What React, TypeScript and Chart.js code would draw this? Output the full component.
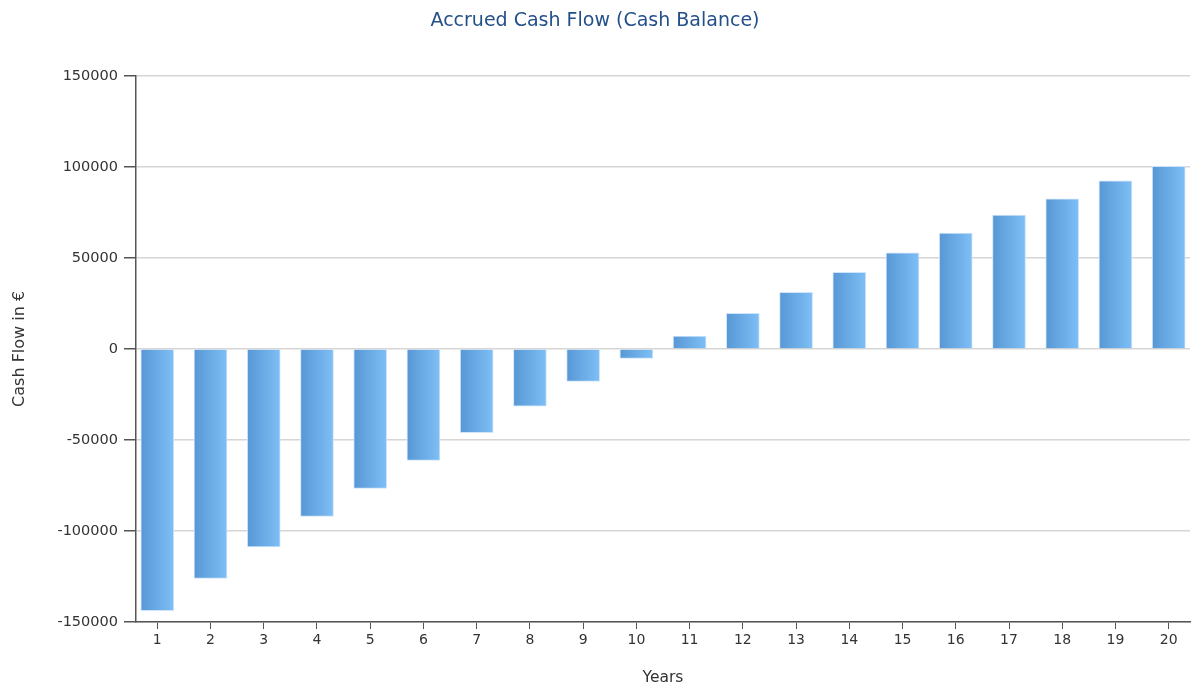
import React, { useEffect, useRef } from "react";
import { Chart, registerables } from "chart.js";

Chart.register(...registerables);

const YEARS: number[] = [1, 2, 3, 4, 5, 6, 7, 8, 9, 10, 11, 12, 13, 14, 15, 16, 17, 18, 19, 20];
const CASH_BALANCE: number[] = [
  -143800, -126000, -108800, -92000, -76600, -61200, -46000, -31500, -17800, -5200,
  7000, 19600, 31100, 42100, 52700, 63600, 73500, 82400, 92300, 100300,
];
const Y_MIN = -150000;
const Y_MAX = 150000;
const Y_STEP = 50000;

const TITLE = "Accrued Cash Flow (Cash Balance)";
const X_TITLE = "Years";
const Y_TITLE = "Cash Flow in €";

const FONT = "'DejaVu Sans', Tahoma, Verdana, sans-serif";
const BAR_W = 33;

export default function App() {
  const ref = useRef<HTMLCanvasElement | null>(null);

  useEffect(() => {
    if (!ref.current) return;
    const chart = new Chart(ref.current, {
      type: "bar",
      data: {
        datasets: [
          {
            label: "Cash Balance",
            data: YEARS.map((y, i) => ({ x: y, y: CASH_BALANCE[i] })),
            barThickness: BAR_W,
            borderWidth: 1,
            borderColor: "rgba(205,228,250,0.95)",
            backgroundColor: (ctx: any) => {
              const c = ctx.chart;
              const xs = c.scales && c.scales.x;
              if (!xs || ctx.type !== "data") return "#6aabe6";
              const px = xs.getPixelForValue(YEARS[ctx.dataIndex]);
              if (!isFinite(px)) return "#6aabe6";
              const g = c.ctx.createLinearGradient(px - BAR_W / 2, 0, px + BAR_W / 2, 0);
              g.addColorStop(0, "#5797d5");
              g.addColorStop(1, "#7fbff6");
              return g;
            },
          },
        ],
      },
      options: {
        animation: false,
        responsive: true,
        maintainAspectRatio: false,
        layout: { padding: { left: 0, right: 2, top: 0, bottom: 0 } },
        plugins: {
          legend: { display: false },
          tooltip: { enabled: false },
          title: {
            display: true,
            text: TITLE,
            color: "#24508a",
            font: { family: FONT, size: 19, weight: "normal" },
            padding: { top: 10, bottom: 43 },
          },
        },
        scales: {
          x: {
            type: "linear",
            min: 0.6,
            max: 20.4,
            offset: false,
            afterBuildTicks: (scale: any) => {
              scale.ticks = YEARS.map((v) => ({ value: v }));
            },
            afterFit: (scale: any) => {
              scale.height = 66;
            },
            grid: { offset: false, drawOnChartArea: false, drawTicks: true, tickLength: 7, tickColor: "#555" },
            border: { color: "#555", width: 1.5 },
            ticks: {
              color: "#333",
              padding: 3,
              font: { family: FONT, size: 14 },
              callback: (v: any) => String(v),
              maxRotation: 0,
              autoSkip: false,
            },
            title: {
              display: true,
              text: X_TITLE,
              color: "#333",
              font: { family: FONT, size: 15.5 },
              padding: { top: 0, bottom: 1 },
            },
          },
          y: {
            min: Y_MIN,
            max: Y_MAX,
            afterFit: (scale: any) => {
              scale.width = 136;
            },
            grid: { color: "#d6d6d6", lineWidth: 1.5, tickLength: 12, tickColor: "#555" },
            border: { color: "#555", width: 1.5 },
            ticks: {
              stepSize: Y_STEP,
              color: "#333",
              padding: 6,
              font: { family: FONT, size: 14.5 },
              callback: (v: any) => String(v),
            },
            title: {
              display: true,
              text: Y_TITLE,
              color: "#333",
              font: { family: FONT, size: 16 },
              padding: { top: 10, bottom: 0 },
            },
          },
        },
      } as any,
    });
    return () => chart.destroy();
  }, []);

  return (
    <div style={{ position: "absolute", left: 0, top: 0, width: 1192, height: 688, background: "#fff" }}>
      <canvas ref={ref} />
    </div>
  );
}
